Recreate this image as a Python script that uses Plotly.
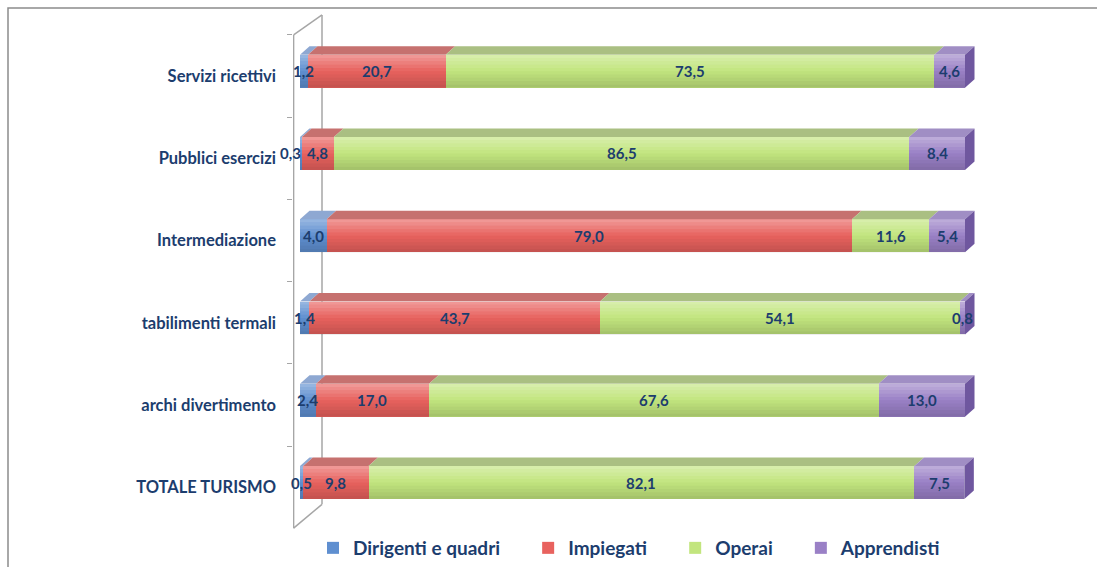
import plotly.graph_objects as go

# Categories (top to bottom) and share of each job level, in percent
categories = [
    "Servizi ricettivi",
    "Pubblici esercizi",
    "Intermediazione",
    "tabilimenti termali",
    "archi divertimento",
    "TOTALE TURISMO",
]
dirigenti = [1.2, 0.3, 4.0, 1.4, 2.4, 0.5]
impiegati = [20.7, 4.8, 79.0, 43.7, 17.0, 9.8]
operai = [73.5, 86.5, 11.6, 54.1, 67.6, 82.1]
apprendisti = [4.6, 8.4, 5.4, 0.8, 13.0, 7.5]

series_names = ["Dirigenti e quadri", "Impiegati", "Operai", "Apprendisti"]
series_values = [dirigenti, impiegati, operai, apprendisti]

# Colours: front face, top face, side face of the last segment
front = ["#5F8FD0", "#E8625E", "#C2E57E", "#9A80C6"]
top_face = ["#8EA8D2", "#C6716F", "#AABF82", "#A08EC4"]
side_end = "#6F579F"

NAVY = "#1C3D6E"
W, H = 1097, 567
L, R, T, B = 293, 1040, 12, 567          # plot area in pixels
PX_PER_UNIT = 6.65                        # x scale
ROW_PX = 82.7                             # y scale (one category)
X0_PX, Y0_PX = 300, 35                    # pixel of x=0 and of y=-0.5

x_range = [(L - X0_PX) / PX_PER_UNIT, (R - X0_PX) / PX_PER_UNIT]
y_top = -0.5 - (Y0_PX - T) / ROW_PX
y_bot = -0.5 + (B - Y0_PX) / ROW_PX

BAR_W = 0.40
BAR_OFF = -0.258
DX = 1.43      # depth shift along x (data units)
DY = 0.103     # depth shift along y (category units)
LABEL_SIZE = 15
CHAR_PX = 8.3  # approximate width of one label character


def ypx(p):
    return -0.5 + (p - Y0_PX) / ROW_PX


def xpx(p):
    return (p - X0_PX) / PX_PER_UNIT


def paper_x(p):
    return (p - L) / (R - L)


def paper_y(p):
    return (B - p) / (B - T)


def fmt(v):
    return f"{v:.1f}".replace(".", ",")


fig = go.Figure()
for name, vals, col in zip(series_names, series_values, front):
    fig.add_trace(go.Bar(
        name=name + "\u00a0" * 5,
        y=categories,
        x=vals,
        orientation="h",
        width=BAR_W,
        offset=BAR_OFF,
        marker=dict(color=col, line=dict(width=0)),
        hovertemplate="%{y}: %{x:.1f}<extra>" + name + "</extra>",
    ))

shapes = []
annotations = []

for i in range(len(categories)):
    start = 0.0
    face_top = i + BAR_OFF
    face_bot = face_top + BAR_W
    centers = []
    for k, vals in enumerate(series_values):
        end = start + vals[i]
        # top face of the segment
        shapes.append(dict(
            type="path", xref="x", yref="y", layer="above",
            path=(f"M{start},{face_top} L{end},{face_top} "
                  f"L{end + DX},{face_top - DY} L{start + DX},{face_top - DY} Z"),
            fillcolor=top_face[k], line=dict(width=0),
        ))
        centers.append((start + end) / 2)
        start = end
    # right-hand side face of the last segment
    shapes.append(dict(
        type="path", xref="x", yref="y", layer="above",
        path=(f"M{start},{face_top} L{start + DX},{face_top - DY} "
              f"L{start + DX},{face_bot - DY} L{start},{face_bot} Z"),
        fillcolor=side_end, line=dict(width=0),
    ))
    # vertical shading of the front face
    n_bands = 10
    for b in range(n_bands):
        t = (b + 0.5) / n_bands
        if t < 0.5:
            fc = f"rgba(255,255,255,{0.38 * (1 - 2 * t):.3f})"
        else:
            fc = f"rgba(0,0,0,{0.16 * (2 * t - 1):.3f})"
        shapes.append(dict(
            type="rect", xref="x", yref="y", layer="above",
            x0=0, x1=start,
            y0=face_top + BAR_W * b / n_bands,
            y1=face_top + BAR_W * (b + 1) / n_bands,
            fillcolor=fc, line=dict(width=0),
        ))

    # value labels; a label is pushed left when it would run into the next one
    texts = [fmt(vals[i]) for vals in series_values]
    shifts = [0.0] * len(texts)
    for k in range(len(texts) - 2, -1, -1):
        right_k = centers[k] * PX_PER_UNIT + len(texts[k]) * CHAR_PX / 2 + shifts[k]
        left_n = centers[k + 1] * PX_PER_UNIT - len(texts[k + 1]) * CHAR_PX / 2 + shifts[k + 1]
        if right_k + 3 > left_n:
            shifts[k] -= right_k + 3 - left_n
    for k, txt in enumerate(texts):
        annotations.append(dict(
            x=centers[k], y=face_top + BAR_W / 2, xref="x", yref="y",
            text=f"<b>{txt}</b>", showarrow=False, xshift=shifts[k],
            font=dict(family="Lato", size=LABEL_SIZE, color=NAVY),
        ))

# wall outline
wall = dict(color="#A6A6A6", width=1.5)
fl, bl = xpx(293.6), xpx(322)
shapes += [
    dict(type="line", xref="x", yref="y", x0=fl, x1=fl, y0=ypx(35), y1=ypx(531), line=wall, layer="below"),
    dict(type="line", xref="x", yref="y", x0=bl, x1=bl, y0=ypx(15), y1=ypx(507), line=wall, layer="below"),
    dict(type="line", xref="x", yref="y", x0=fl, x1=bl, y0=ypx(35), y1=ypx(15), line=wall, layer="below"),
    dict(type="line", xref="x", yref="y", x0=fl, x1=bl, y0=ypx(531), y1=ypx(507), line=wall, layer="below"),
]

# outer frame of the chart
shapes.append(dict(
    type="path", xref="paper", yref="paper",
    path=(f"M{paper_x(8)},{paper_y(575)} L{paper_x(8)},{paper_y(8)} "
          f"L{paper_x(1100)},{paper_y(8)}"),
    line=dict(color="#8C8C8C", width=1.5),
))

fig.update_layout(
    template="none",
    width=W, height=H,
    margin=dict(l=L, r=W - R, t=T, b=H - B, pad=0),
    barmode="stack",
    paper_bgcolor="white",
    plot_bgcolor="rgba(0,0,0,0)",
    showlegend=True,
    legend=dict(
        orientation="h",
        x=paper_x(313), xanchor="left",
        y=paper_y(551), yanchor="middle",
        font=dict(family="Lato", size=19, color=NAVY, weight="bold"),
        traceorder="normal",
        itemclick=False,
        bgcolor="rgba(0,0,0,0)",
    ),
    xaxis=dict(
        range=x_range,
        showgrid=False, zeroline=False, showline=False,
        showticklabels=False, ticks="",
    ),
    yaxis=dict(
        type="category",
        categoryorder="array",
        categoryarray=categories,
        range=[y_bot, y_top],
        showgrid=False, zeroline=False, showline=False,
        ticks="outside", ticklen=5, tickwidth=1.2, tickcolor="#A6A6A6",
        tickson="boundaries",
        ticklabelstandoff=16,
        tickfont=dict(family="Lato", size=16.5, color=NAVY, weight="bold"),
    ),
    shapes=shapes,
    annotations=annotations,
)

fig.write_html("out.html")
